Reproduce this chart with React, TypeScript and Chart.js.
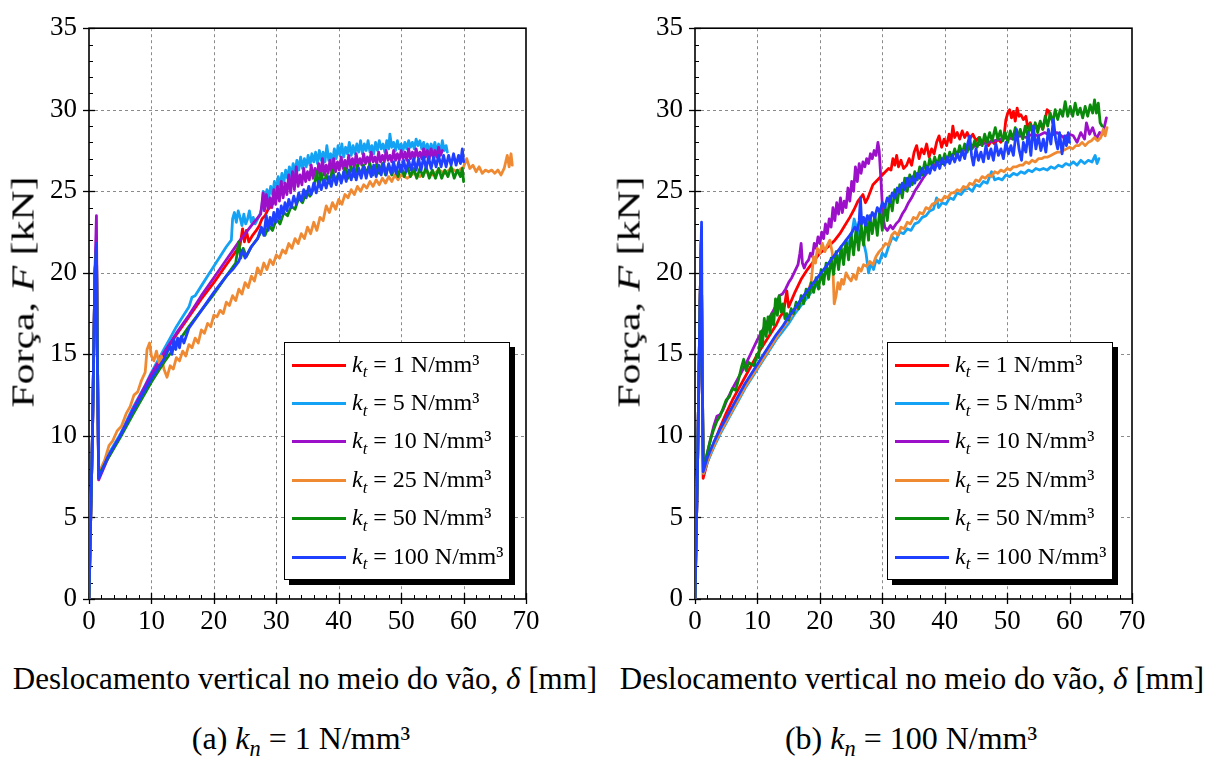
import React, { useEffect, useRef } from 'react';
import { Chart, registerables } from 'chart.js';

Chart.register(...registerables);

// ---------- axis ticks ----------
const X_TICKS = [0, 10, 20, 30, 40, 50, 60, 70];
const Y_TICKS = [0, 5, 10, 15, 20, 25, 30, 35];
const X_MINOR = [2, 4, 6, 8, 12, 14, 16, 18, 22, 24, 26, 28, 32, 34, 36, 38, 42, 44, 46, 48, 52, 54, 56, 58, 62, 64, 66, 68];
const Y_MINOR = [1, 2, 3, 4, 6, 7, 8, 9, 11, 12, 13, 14, 16, 17, 18, 19, 21, 22, 23, 24, 26, 27, 28, 29, 31, 32, 33, 34];

// ---------- legend ----------
const KT_LABELS = ['1', '5', '10', '25', '50', '100'];
const KT_COLORS = ['#ff0000', '#14a2f5', '#9b10c8', '#f08a32', '#0a8a0a', '#2040ff'];

// ---------- panel (a): kn = 1 N/mm3 ----------
const A_KT1 = [[0,0],[0.55,10],[0.95,20],[1.2,21.5],[1.35,15],[1.55,7.4],[3,8.7],[5,10.0],[7,11.6],[10,13.7],[12,15.0],[14,16.2],[16,17.3],[18,18.4],[20,19.4],[22,20.5],[23.5,21.3],[24.2,21.7],[24.6,22.7],[24.9,21.9],[25.2,22.6],[25.6,21.9],[26.2,22.3],[26.8,22.6],[27.3,22.9],[27.7,23.3],[28.2,23.5],[28.7,23.9],[29.2,24.1],[29.7,24.4]];

const A_KT5 = [[0,0],[0.55,10],[0.95,20],[1.2,21.5],[1.35,15],[1.55,7.6],[3,8.8],[5,10.1],[7,11.7],[9,13.1],[10,13.9],[11,14.6],[12,15.3],[13,16.0],[14,16.7],[15,17.3],[16,17.9],[16.5,18.5],[17,18.6],[18,19.2],[19,19.8],[20,20.4],[21,21.0],[22,21.6],[22.8,22.0],[23.0,23.3],[23.3,23.7],[23.6,23.1],[23.9,23.8],[24.2,23.4],[24.5,22.9],[24.8,23.6],[25.1,23.0],[25.4,23.3],[25.7,23.8],[26.0,23.1],[26.3,23.4],[26.6,23.0],[27.0,23.3],[27.4,23.6],[27.7,24.0],[27.9,25.0],[28.2,24.4],[28.5,25.1],[28.8,24.6],[29.1,25.3],[29.4,24.8],[29.7,25.6],[30.0,25.0],[30.3,25.9],[30.6,25.3],[30.9,26.1],[31.2,25.5],[31.5,26.3],[31.8,25.8],[32.1,26.5],[32.4,25.9],[32.7,26.7],[33.0,26.1],[33.3,26.9],[33.6,26.3],[33.9,27.1],[34.2,26.4],[34.5,27.0],[34.8,26.5],[35.1,27.2],[35.4,26.6],[35.7,27.3],[36.0,26.8],[36.3,27.4],[36.6,26.7],[36.9,27.5],[37.2,26.9],[37.5,27.4],[37.8,26.8],[38.1,27.8],[38.4,26.9],[38.7,27.3],[39.0,26.8],[39.3,27.6],[39.6,27.0],[39.9,27.8],[40.2,27.2],[40.5,27.9],[40.8,27.1],[41.1,27.7],[41.4,27.3],[41.7,28.0],[42.0,27.2],[42.3,27.8],[42.6,27.3],[42.9,27.9],[43.2,27.4],[43.5,28.1],[43.8,27.3],[44.1,27.9],[44.4,27.5],[44.7,28.1],[45.0,27.4],[45.3,27.8],[45.6,27.3],[45.9,28.0],[46.2,27.5],[46.5,28.1],[46.8,27.6],[47.1,27.9],[47.4,27.4],[47.7,28.1],[48.0,27.6],[48.2,28.5],[48.5,27.7],[48.8,28.0],[49.1,27.5],[49.4,28.1],[49.7,27.6],[50.0,27.9],[50.3,27.5],[50.6,28.0],[50.9,27.6],[51.2,28.1],[51.5,27.7],[51.8,28.0],[52.1,27.6],[52.4,28.2],[52.7,27.8],[53.0,28.1],[53.3,27.6],[53.6,28.0],[53.9,27.5],[54.2,27.9],[54.5,27.4],[54.8,27.9],[55.1,27.5],[55.4,28.0],[55.7,27.4],[56.0,27.9],[56.3,27.3],[56.6,28.1],[56.9,27.5],[57.2,27.8],[57.4,27.4]];

const A_KT10 = [[0,0],[0.55,10],[0.95,20],[1.19,23.5],[1.35,15],[1.55,7.3],[3,8.6],[5,10.0],[7,11.6],[10,13.8],[12,15.1],[14,16.3],[16,17.4],[18,18.6],[20,19.7],[22,20.8],[24,21.9],[26,22.9],[27.5,23.6],[27.9,24.9],[28.1,23.8],[28.4,24.8],[28.7,23.9],[29.0,24.6],[29.3,24.0],[29.6,25.1],[29.9,24.2],[30.2,25.3],[30.5,24.4],[30.8,25.6],[31.1,24.6],[31.4,25.5],[31.7,24.8],[32.0,26.0],[32.3,24.9],[32.6,26.2],[32.9,25.1],[33.2,26.5],[33.5,25.3],[33.8,26.0],[34.1,25.4],[34.4,26.4],[34.7,25.6],[35.0,26.2],[35.3,25.7],[35.6,26.6],[35.9,25.8],[36.2,26.4],[36.5,25.9],[36.8,26.7],[37.1,25.9],[37.4,27.0],[37.7,26.0],[38.0,26.6],[38.3,26.1],[38.6,26.9],[38.9,26.1],[39.2,27.0],[39.5,26.2],[39.8,26.8],[40.1,26.3],[40.4,27.1],[40.7,26.4],[41.0,26.9],[41.3,26.4],[41.6,27.2],[41.9,26.5],[42.2,27.0],[42.5,26.5],[42.8,27.3],[43.1,26.6],[43.4,27.0],[43.7,26.6],[44.0,27.3],[44.3,26.7],[44.6,27.1],[44.9,26.7],[45.2,27.4],[45.5,26.8],[45.8,27.1],[46.1,26.7],[46.4,27.4],[46.7,26.8],[47.0,27.2],[47.3,26.8],[47.6,27.5],[47.9,26.9],[48.2,27.2],[48.5,26.8],[48.8,27.5],[49.1,26.9],[49.4,27.3],[49.7,26.9],[50.0,27.5],[50.3,27.0],[50.6,27.4],[50.9,26.9],[51.2,27.6],[51.5,27.0],[51.8,27.4],[52.1,27.0],[52.4,27.6],[52.7,27.1],[53.0,27.4],[53.3,27.0],[53.6,27.6],[53.9,27.1],[54.2,27.5],[54.5,27.0],[54.8,27.6],[55.1,27.1],[55.4,27.5],[55.7,27.1],[56.0,27.7],[56.3,27.2],[56.6,27.5]];

const A_KT25 = [[0,0],[0.55,10],[0.95,20],[1.2,21.5],[1.35,15],[1.55,7.7],[2.5,8.5],[3.2,9.4],[3.8,9.7],[4.5,10.3],[5.2,10.6],[6,11.4],[6.6,11.8],[7.2,12.5],[7.8,12.7],[8.4,13.4],[9,13.9],[9.3,15.3],[9.7,15.7],[10.0,14.9],[10.4,14.6],[10.8,15.2],[11.2,14.5],[11.6,14.9],[12.0,14.1],[12.5,13.6],[13.0,14.3],[13.5,14.1],[14.0,14.8],[14.5,14.6],[15.0,15.2],[15.5,14.9],[16.0,15.6],[16.5,15.4],[17.0,16.0],[17.5,15.7],[18.0,16.5],[18.5,16.3],[19.0,16.9],[19.5,16.7],[20.0,17.4],[20.5,17.3],[21.0,17.7],[21.5,17.5],[22.0,18.2],[22.5,18.0],[23.0,18.6],[23.5,18.3],[24.0,19.0],[24.5,18.7],[25.0,19.4],[25.5,19.1],[26.0,19.8],[26.5,19.5],[27.0,20.3],[27.5,19.9],[28.0,20.6],[28.5,20.2],[29.0,20.8],[29.5,20.5],[30.0,21.1],[30.5,20.9],[31.0,21.4],[31.5,21.2],[32.0,21.8],[32.5,21.5],[33.0,22.1],[33.5,21.8],[34.0,22.4],[34.5,22.1],[35.0,22.8],[35.5,22.4],[36.0,23.1],[36.5,22.6],[37.0,23.4],[37.5,23.2],[38.0,24.1],[38.5,23.7],[39.0,24.3],[39.5,23.9],[40.0,24.5],[40.5,24.2],[41.0,24.8],[41.5,24.6],[42.0,25.1],[42.5,24.8],[43.0,25.3],[43.5,25.0],[44.0,25.4],[44.5,25.2],[45.0,25.6],[45.5,25.3],[46,25.7],[46.5,25.4],[47,25.8],[47.5,25.5],[48,25.9],[48.5,25.6],[49,26.0],[49.5,25.7],[50,26.0],[51,25.8],[52,26.1],[53,25.9],[54,26.2],[55,26.0],[56,26.3],[57,26.1],[58,26.4],[59,26.2],[60,26.5],[60.5,27.0],[61,26.4],[61.5,26.6],[62,26.2],[62.5,26.5],[63,26.1],[63.5,26.3],[64,26.2],[64.5,26.3],[65,26.1],[65.5,26.3],[66,26.0],[66.5,26.4],[67,27.2],[67.3,26.5],[67.6,27.3],[67.8,26.6]];

const A_KT50 = [[0,0],[0.55,10],[0.95,20],[1.2,21.5],[1.35,15],[1.55,7.6],[3,8.6],[5,9.9],[7,11.3],[10,13.3],[12,14.5],[14,15.6],[16,16.7],[18,17.7],[20,18.7],[22,19.8],[23.5,20.6],[24.0,21.9],[24.3,20.9],[24.7,21.5],[25.2,21.0],[26,21.6],[27,22.1],[27.8,22.7],[28.2,22.3],[28.8,22.9],[29.4,22.6],[30.0,23.3],[30.6,23.0],[31.2,23.7],[31.8,23.5],[32.4,24.1],[33.0,23.9],[33.6,24.6],[34.2,24.3],[34.8,25.0],[35.4,24.7],[36.0,25.2],[36.5,26.2],[36.8,25.3],[37.2,26.1],[37.6,25.4],[38.0,26.0],[38.5,25.5],[39.0,26.3],[39.5,25.6],[40.0,26.1],[40.5,25.7],[41,26.4],[41.5,25.8],[42,26.5],[42.5,25.9],[43,26.6],[43.5,26.0],[44,26.6],[44.5,26.1],[45,26.7],[45.5,26.0],[46,26.6],[46.5,26.1],[47,26.7],[47.5,26.0],[48,26.6],[48.5,26.0],[49,26.5],[49.5,25.9],[50,26.6],[50.5,25.9],[51,26.5],[51.5,25.9],[52,26.4],[52.5,25.8],[53,26.4],[53.5,25.9],[54,26.5],[54.5,25.8],[55,26.3],[55.5,25.8],[56,26.4],[56.5,25.8],[57,26.3],[57.5,25.9],[58,26.5],[58.5,25.8],[59,26.3],[59.5,25.9],[59.8,26.4],[60,25.6]];

const A_KT100 = [[0,0],[0.55,10],[0.95,20],[1.19,21.8],[1.35,14],[1.55,7.4],[3,8.7],[5,10.0],[7,11.5],[10,13.5],[12,14.7],[13,15.5],[13.3,15.0],[13.6,15.9],[13.9,15.3],[14.2,16.0],[14.5,15.4],[14.8,16.1],[15.2,15.7],[16,16.6],[18,17.7],[20,18.8],[22,19.8],[23,20.2],[24,20.7],[24.6,21.4],[25,20.9],[26,21.6],[27,22.1],[27.6,22.8],[28.0,22.3],[28.4,23.5],[28.7,22.6],[29.0,23.4],[29.3,22.9],[29.6,23.7],[29.9,23.1],[30.2,23.9],[30.5,23.3],[30.8,24.1],[31.1,23.6],[31.4,24.3],[31.7,23.8],[32.0,24.5],[32.4,24.0],[32.8,24.7],[33.2,24.2],[33.6,24.9],[34.0,24.4],[34.4,25.1],[34.8,24.6],[35.2,25.3],[35.6,24.8],[36.0,25.5],[36.4,24.9],[36.8,25.6],[37.2,25.1],[37.6,25.7],[38.0,25.2],[38.4,25.9],[38.8,25.3],[39.2,26.0],[39.6,25.4],[40.0,26.1],[40.4,25.5],[40.8,26.2],[41.2,25.6],[41.6,26.3],[42.0,25.7],[42.4,26.4],[42.8,25.7],[43.2,26.4],[43.6,25.8],[44.0,26.5],[44.4,25.8],[44.8,26.5],[45.2,25.9],[45.6,26.6],[46.0,25.9],[46.4,26.6],[46.8,26.0],[47.2,26.7],[47.6,26.0],[48.0,26.7],[48.4,26.1],[48.8,26.8],[49.2,26.1],[49.6,26.8],[50.0,26.2],[50.4,26.9],[50.8,26.2],[51.2,26.9],[51.6,26.3],[52.0,27.0],[52.4,26.3],[52.8,27.0],[53.2,26.3],[53.6,27.1],[54.0,26.4],[54.4,27.1],[54.8,26.4],[55.2,27.1],[55.6,26.5],[56.0,27.2],[56.4,26.5],[56.8,27.2],[57.2,26.5],[57.6,27.2],[58.0,26.6],[58.4,27.3],[58.8,26.6],[59.2,27.2],[59.5,26.7],[59.8,27.6],[60.0,26.8]];

// ---------- panel (b): kn = 100 N/mm3 ----------
const B_KT1 = [[0,0],[0.4,8],[0.8,18],[1.0,22.0],[1.15,14],[1.3,7.4],[2,8.4],[3,9.5],[4,10.5],[5,11.4],[6,12.2],[7,12.9],[8,13.6],[9,14.3],[10,15.0],[11,15.6],[12,16.2],[13,16.8],[13.6,17.3],[14.2,17.6],[14.7,18.9],[15.0,17.9],[16,18.8],[17,19.6],[18,20.2],[19,20.7],[20,21.2],[21,21.5],[21.6,21.7],[22.4,22.0],[23.2,22.4],[24,22.9],[24.8,23.4],[25.5,23.9],[26.1,24.4],[26.5,24.6],[26.9,24.8],[27.3,24.3],[27.7,24.6],[28.1,25.0],[28.5,25.4],[29,25.6],[29.5,25.8],[30,26.0],[30.5,26.2],[31,26.4],[31.4,26.3],[31.7,27.0],[32,26.6],[32.3,27.2],[32.6,26.5],[33,26.9],[33.4,26.4],[33.9,26.6],[34.3,27.0],[34.7,26.6],[35.1,27.4],[35.5,27.8],[35.9,27.0],[36.3,27.6],[36.7,27.3],[37.1,27.9],[37.5,27.1],[37.9,27.6],[38.3,27.3],[38.7,28.0],[39.1,28.4],[39.5,27.7],[39.9,28.2],[40.3,27.8],[40.7,28.5],[41.0,28.0],[41.3,29.0],[41.6,28.3],[42,28.6],[42.4,28.2],[42.8,28.7],[43.2,28.3],[43.6,28.6],[44,28.2],[44.5,28.5],[45,28.1],[45.5,28.3],[46,28.0],[46.5,28.2],[47,27.8],[47.5,28.1],[48,27.9],[48.5,28.2],[49,28.0],[49.5,28.4],[49.8,29.4],[50.1,29.8],[50.4,30.0],[50.7,29.5],[51,29.9],[51.3,29.3],[51.6,30.1],[51.9,29.6],[52.2,29.7],[52.6,29.4],[53,29.6],[53.3,28.9],[53.7,29.2],[54.1,28.8],[54.5,29.1],[54.9,28.9],[55.3,29.2],[55.7,28.8],[56.1,29.4],[56.4,30.0],[56.7,29.9],[57.0,29.5]];

const B_KT5 = [[0,0],[0.4,8],[0.8,18],[1.0,22.0],[1.15,14],[1.35,7.7],[2,8.4],[3,9.3],[4,10.1],[5,10.8],[6,11.5],[7,12.2],[8,12.9],[9,13.5],[10,14.1],[11,14.7],[12,15.3],[13,15.9],[14,16.4],[15,16.9],[16,17.5],[17,18.0],[18,18.5],[19,19.0],[20,19.5],[21,20.0],[22,20.5],[23,21.0],[24,21.5],[25,22.1],[25.5,23.3],[26,22.6],[26.5,22.2],[27,21.9],[27.4,21.2],[27.8,20.0],[28.2,20.6],[28.6,20.2],[29,20.8],[29.5,20.6],[30,21.2],[30.5,21.0],[31,21.6],[31.6,22.2],[32.2,22.0],[32.8,22.5],[33.4,22.4],[34,22.7],[34.6,22.6],[35.2,23.0],[35.8,23.1],[36.4,23.4],[37,23.5],[37.6,23.8],[38.2,23.9],[38.7,24.6],[39.0,24.0],[39.6,24.3],[40.2,24.2],[40.8,24.6],[41.4,24.5],[42,24.9],[42.6,24.8],[43.2,25.1],[43.8,25.2],[44.4,25.0],[45,25.4],[45.6,25.3],[46.2,25.6],[46.8,25.5],[47.5,26.2],[48,25.7],[48.6,25.8],[49.2,25.7],[49.8,26.0],[50.4,25.9],[51,26.1],[51.6,26.0],[52.2,26.2],[52.8,26.1],[53.4,26.3],[54,26.2],[54.6,26.4],[55.2,26.3],[55.8,26.4],[56.4,26.3],[57,26.5],[57.6,26.4],[58.2,26.6],[58.8,26.5],[59.4,26.7],[60,26.6],[60.6,26.8],[61.2,26.6],[61.8,26.9],[62.4,26.7],[63,26.9],[63.6,26.8],[64.1,27.2],[64.4,26.7],[64.7,27.0]];

const B_KT10 = [[0,0],[0.4,8],[0.8,18],[1.0,22.0],[1.15,14],[1.35,7.8],[2,9.0],[2.5,9.8],[3,10.6],[3.5,11.2],[4,11.3],[4.5,11.6],[5,12.1],[6,12.9],[7,13.6],[8,14.3],[9,15.1],[10,15.9],[11,16.6],[12,17.3],[13,18.0],[13.5,18.6],[14,18.7],[14.5,19.0],[15,19.4],[15.5,19.7],[16,20.1],[16.5,20.5],[16.8,21.2],[17.0,21.8],[17.2,20.6],[17.5,20.3],[17.8,20.6],[18.2,20.8],[18.5,21.2],[18.8,21.0],[19.1,21.8],[19.4,21.5],[19.7,22.2],[20.0,21.8],[20.3,22.5],[20.6,22.1],[20.9,23.0],[21.2,22.4],[21.5,23.3],[21.8,22.8],[22.1,24.0],[22.4,23.2],[22.7,24.3],[23.0,23.6],[23.3,24.6],[23.6,23.7],[23.9,24.4],[24.2,24.0],[24.5,25.2],[24.8,24.4],[25.1,25.6],[25.4,25.0],[25.7,26.5],[26.0,25.6],[26.3,26.7],[26.6,26.1],[26.9,26.8],[27.2,26.5],[27.5,27.0],[27.8,26.7],[28.1,27.3],[28.4,27.0],[28.7,27.5],[29.0,27.2],[29.3,28.0],[29.5,27.5],[29.8,25.6],[30.1,23.5],[30.4,22.8],[30.8,22.6],[31.3,22.9],[31.7,22.7],[32.2,23.0],[32.7,23.2],[33.2,23.6],[33.7,23.9],[34.2,24.3],[34.7,24.6],[35.2,25.0],[35.7,25.3],[36.2,25.6],[36.7,25.9],[37.3,26.2],[38,26.5],[39,26.8],[40,27.0],[41,27.2],[42,27.4],[43,27.5],[44,27.6],[45,27.8],[46,27.9],[47,28.0],[48,28.1],[49,28.2],[50,28.3],[51,28.2],[52,28.4],[53,28.3],[54,28.5],[55,28.4],[56,28.6],[57,28.4],[58,28.6],[59,28.3],[60,28.5],[60.6,28.4],[61.2,28.0],[61.8,28.6],[62.4,28.2],[62.7,29.2],[63.2,28.5],[63.7,28.9],[64.3,28.2],[64.8,28.6],[65.3,28.5],[65.9,29.5]];

const B_KT25 = [[0,0],[0.4,8],[0.8,18],[1.0,22.0],[1.15,14],[1.35,7.7],[2,8.5],[3,9.4],[4,10.2],[5,10.9],[6,11.6],[7,12.3],[8,13.0],[9,13.6],[10,14.2],[11,14.8],[12,15.4],[13,16.0],[14,16.6],[15,17.1],[16,17.7],[17,18.3],[18,18.8],[18.6,19.4],[19.0,21.0],[19.3,20.6],[19.6,21.5],[20.0,21.2],[20.4,21.8],[20.8,21.3],[21.2,21.7],[21.6,22.0],[22.0,21.2],[22.3,18.1],[22.6,18.6],[22.9,19.4],[23.2,19.0],[23.5,19.6],[23.8,19.3],[24.2,20.0],[24.6,19.7],[25.0,19.5],[25.4,19.9],[25.8,19.6],[26.2,20.3],[26.6,20.1],[27,20.5],[27.5,20.4],[28,20.7],[28.5,20.5],[29,21.0],[29.5,21.3],[30,21.5],[30.5,21.8],[31,21.7],[31.5,22.3],[32,22.5],[32.5,22.3],[33,22.8],[33.5,22.7],[34,23.1],[34.5,23.0],[35,23.4],[35.5,23.3],[36,23.7],[36.5,23.6],[37,24.0],[37.5,23.9],[38,24.2],[38.5,24.3],[39,24.5],[39.5,24.4],[40,24.7],[40.5,24.6],[41,24.9],[41.5,24.9],[42,25.1],[42.5,25.0],[43,25.3],[43.5,25.2],[44,25.5],[44.5,25.4],[45,25.7],[45.5,25.6],[46,25.9],[46.5,25.8],[47,26.0],[47.5,25.9],[48,26.2],[48.5,26.1],[49,26.3],[49.5,26.2],[50,26.4],[50.5,26.3],[51,26.5],[51.5,26.5],[52,26.6],[52.5,26.6],[53,26.8],[53.5,26.7],[54,26.9],[54.5,26.8],[55,27.0],[55.5,27.0],[56,27.1],[56.5,27.1],[57,27.2],[57.5,27.3],[58,27.4],[58.5,27.4],[59,27.5],[59.5,27.6],[60,27.7],[60.5,27.6],[61,27.8],[61.5,27.8],[62,28.0],[62.5,27.8],[63,28.0],[63.5,28.1],[64,28.3],[64.5,28.1],[65,28.3],[65.4,28.8],[65.7,28.4],[66,28.9]];

const B_KT50 = [[0,0],[0.4,8],[0.8,18],[1.0,22.0],[1.15,14],[1.35,8.0],[2,9.0],[2.5,9.8],[3,10.4],[3.5,10.9],[4,11.2],[4.5,11.7],[5,12.2],[5.5,12.4],[6,12.9],[6.5,12.8],[7,13.5],[7.5,14.3],[7.8,14.7],[8.2,14.0],[8.6,14.5],[9,14.4],[9.5,14.3],[9.9,15.0],[10.2,14.8],[10.5,16.4],[10.8,15.5],[11.1,17.2],[11.4,16.1],[11.7,17.3],[12.0,16.3],[12.3,17.5],[12.6,16.8],[12.9,18.4],[13.2,17.4],[13.5,18.6],[13.8,17.6],[14.1,18.1],[14.4,17.2],[14.7,17.5],[15,17.1],[15.4,17.8],[15.8,17.5],[16.2,18.2],[16.6,17.8],[17,18.6],[17.4,18.1],[17.8,19.0],[18.2,18.5],[18.6,19.4],[19.0,18.8],[19.4,19.7],[19.8,19.0],[20.2,20.2],[20.6,19.3],[21,20.6],[21.4,19.6],[21.8,20.9],[22.2,19.9],[22.6,21.3],[23,20.2],[23.4,21.6],[23.8,20.5],[24.2,22.0],[24.6,20.8],[25,22.4],[25.4,21.1],[25.8,22.7],[26.2,21.4],[26.6,23.0],[27,21.7],[27.4,23.3],[27.8,22.0],[28.0,23.5],[28.4,22.4],[28.8,23.6],[29.2,22.3],[29.6,23.9],[30.0,22.6],[30.4,24.2],[30.8,23.2],[31.2,24.7],[31.6,23.8],[32,25.1],[32.4,24.3],[32.8,25.4],[33.2,24.6],[33.6,25.8],[34.0,25.0],[34.4,26.0],[34.8,25.4],[35.2,26.2],[35.6,25.7],[36.0,26.5],[36.4,26.0],[36.8,26.8],[37.2,26.2],[37.6,27.0],[38.0,26.5],[38.4,27.1],[38.8,26.6],[39.2,27.2],[39.6,26.7],[40.0,27.3],[40.4,26.8],[40.8,27.4],[41.2,27.0],[41.6,27.6],[42.0,27.1],[42.4,27.8],[42.8,27.3],[43.2,27.9],[43.6,27.4],[44.0,28.0],[44.4,27.6],[44.8,28.1],[45.2,27.7],[45.6,28.3],[46.0,27.8],[46.4,28.5],[46.8,28.0],[47.2,28.6],[47.6,28.1],[48.1,28.9],[48.5,28.2],[48.9,28.7],[49.3,28.1],[49.7,28.6],[50.1,28.0],[50.5,28.7],[50.9,28.2],[51.3,28.9],[51.7,28.3],[52.1,28.8],[52.5,28.2],[52.9,29.0],[53.3,28.4],[53.7,29.1],[54.1,28.5],[54.5,29.2],[54.9,28.6],[55.3,29.3],[55.7,28.8],[56.1,29.6],[56.5,29.0],[56.9,29.8],[57.3,29.2],[57.7,30.0],[58.1,29.4],[58.5,30.0],[58.9,29.6],[59.3,30.5],[59.7,29.6],[60.1,30.2],[60.5,29.6],[60.9,30.4],[61.3,29.7],[61.7,30.1],[62.1,29.5],[62.5,30.2],[62.9,29.6],[63.3,30.3],[63.7,29.8],[64.0,30.6],[64.3,29.8],[64.6,30.4],[64.9,29.2],[65.2,29.0]];

const B_KT100 = [[0,0],[0.4,8],[0.8,18],[1.05,23.1],[1.15,14],[1.3,7.8],[2,8.7],[3,9.6],[4,10.4],[5,11.1],[6,11.8],[7,12.5],[8,13.2],[9,13.8],[10,14.4],[11,15.0],[12,15.6],[13,16.2],[14,16.7],[15,17.3],[16,17.8],[17,18.4],[18,18.9],[19,19.4],[20,19.9],[21,20.4],[22,20.9],[23,21.4],[24,21.9],[25,22.4],[25.6,22.8],[26,22.6],[26.3,23.2],[26.5,24.6],[26.7,23.0],[27,23.4],[27.3,22.9],[27.6,23.5],[28,23.2],[28.4,23.7],[28.8,23.4],[29.2,24.0],[29.6,23.7],[30,24.3],[30.4,24.0],[30.8,24.6],[31.2,24.3],[31.6,24.9],[32,24.6],[32.4,25.2],[32.8,24.9],[33.2,25.5],[33.6,25.1],[34,25.8],[34.4,25.3],[34.8,25.9],[35.2,25.5],[35.6,26.1],[36,25.8],[36.4,26.4],[36.8,26.0],[37.2,26.5],[37.6,26.1],[38,26.6],[38.4,26.3],[38.8,26.8],[39.2,26.4],[39.6,27.0],[40,26.6],[40.4,27.1],[40.8,26.7],[41.2,27.2],[41.6,26.8],[42,27.3],[42.4,26.9],[42.8,27.5],[43.2,27.0],[43.6,27.8],[44,28.4],[44.3,27.2],[44.6,26.6],[45,27.6],[45.4,26.9],[45.8,27.4],[46.2,26.8],[46.6,27.8],[47,27.0],[47.4,27.6],[47.8,26.9],[48.2,27.9],[48.6,27.2],[49,27.6],[49.4,27.0],[49.8,28.0],[50.2,27.3],[50.6,27.8],[51,27.2],[51.5,28.8],[51.9,27.6],[52.3,26.9],[52.6,28.0],[53,27.4],[53.4,28.6],[53.8,27.2],[54.2,29.0],[54.6,27.6],[55,28.4],[55.4,27.5],[55.8,28.2],[56.2,27.4],[56.6,28.8],[57,27.9],[57.4,29.4],[57.8,28.1],[58.1,27.6],[58.4,28.6],[58.8,27.3],[59.2,28.4],[59.5,27.8],[59.8,28.6],[60,28.0]];

const SERIES_A = [A_KT1, A_KT5, A_KT10, A_KT25, A_KT50, A_KT100];
const SERIES_B = [B_KT1, B_KT5, B_KT10, B_KT25, B_KT50, B_KT100];

const SERIF = '"Liberation Serif", "Times New Roman", Times, serif';

const CANVAS_W = 560;
const CANVAS_H = 640;

const framePlugin = {
  id: 'frameTicks',
  beforeDatasetsDraw(chart: any) {
    const { ctx, chartArea, scales } = chart;
    const { left, right, top, bottom } = chartArea;
    const xs = scales.x;
    const ys = scales.y;
    const line = (x1: number, y1: number, x2: number, y2: number) => {
      ctx.beginPath();
      ctx.moveTo(x1, y1);
      ctx.lineTo(x2, y2);
      ctx.stroke();
    };
    ctx.save();
    ctx.strokeStyle = '#8a8a8a';
    ctx.lineWidth = 1;
    ctx.setLineDash([3, 3]);
    X_TICKS.forEach((v) => {
      if (v <= xs.min || v >= xs.max) return;
      const px = Math.round(xs.getPixelForValue(v)) + 0.5;
      line(px, top, px, bottom);
    });
    Y_TICKS.forEach((v) => {
      if (v <= ys.min || v >= ys.max) return;
      const py = Math.round(ys.getPixelForValue(v)) + 0.5;
      line(left, py, right, py);
    });
    ctx.setLineDash([]);
    ctx.strokeStyle = '#000';
    ctx.lineWidth = 1;
    X_MINOR.forEach((v) => {
      const px = Math.round(xs.getPixelForValue(v)) + 0.5;
      line(px, bottom, px, bottom - 4);
    });
    Y_MINOR.forEach((v) => {
      const py = Math.round(ys.getPixelForValue(v)) + 0.5;
      line(left, py, left + 4, py);
    });
    ctx.lineWidth = 1.3;
    X_TICKS.forEach((v) => {
      const px = Math.round(xs.getPixelForValue(v)) + 0.5;
      line(px, bottom + 5, px, bottom - 6);
    });
    Y_TICKS.forEach((v) => {
      const py = Math.round(ys.getPixelForValue(v)) + 0.5;
      line(left - 6, py, left + 6, py);
    });
    ctx.lineWidth = 1.6;
    ctx.strokeRect(left, top, right - left, bottom - top);
    ctx.restore();
  },
};

function makeChart(canvas: HTMLCanvasElement, series: number[][][]) {
  return new Chart(canvas, {
    type: 'line',
    data: {
      datasets: series.map((pts, i) => ({
        label: 'kt = ' + KT_LABELS[i],
        data: pts.map(([x, y]) => ({ x, y })),
        borderColor: KT_COLORS[i],
        backgroundColor: KT_COLORS[i],
        borderWidth: 2.8,
        pointRadius: 0,
        tension: 0,
        fill: false,
        borderJoinStyle: 'round',
        borderCapStyle: 'round',
        order: series.length - i,
      })),
    },
    options: {
      responsive: false,
      animation: false,
      events: [],
      layout: { padding: { left: 0, top: 21, right: CANVAS_W - 526, bottom: 0 } },
      plugins: { legend: { display: false }, tooltip: { enabled: false } },
      scales: {
        x: {
          type: 'linear',
          min: 0,
          max: 70,
          afterBuildTicks: (s: any) => {
            s.ticks = X_TICKS.map((v) => ({ value: v }));
          },
          afterFit: (s: any) => {
            s.height = CANVAS_H - 599;
          },
          grid: { display: false, drawTicks: false },
          border: { display: false },
          ticks: {
            padding: 7,
            color: '#000',
            autoSkip: false,
            maxRotation: 0,
            font: { family: SERIF, size: 27 },
          },
        },
        y: {
          type: 'linear',
          min: 0,
          max: 35,
          afterBuildTicks: (s: any) => {
            s.ticks = Y_TICKS.map((v) => ({ value: v }));
          },
          afterFit: (s: any) => {
            s.width = 89;
          },
          grid: { display: false, drawTicks: false },
          border: { display: false },
          ticks: {
            padding: 12,
            color: '#000',
            autoSkip: false,
            font: { family: SERIF, size: 27 },
          },
        },
      },
    } as any,
    plugins: [framePlugin],
  } as any);
}

function Legend({ left, top }: { left: number; top: number }) {
  return (
    <div
      style={{
        position: 'absolute',
        left,
        top,
        width: 226,
        height: 238,
        boxSizing: 'border-box',
        border: '1.5px solid #000',
        background: '#fff',
        boxShadow: '5px 5px 0 #000',
        fontFamily: SERIF,
      }}
    >
      {KT_LABELS.map((v, i) => (
        <div
          key={v}
          style={{
            position: 'absolute',
            left: 0,
            top: 22 + i * 38.4 - 15,
            height: 30,
            display: 'flex',
            alignItems: 'center',
            whiteSpace: 'nowrap',
          }}
        >
          <div style={{ marginLeft: 7, width: 54, height: 3, background: KT_COLORS[i] }} />
          <div style={{ marginLeft: 6, fontSize: 24, lineHeight: '30px' }}>
            <i>k</i>
            <i style={{ fontSize: '0.7em', position: 'relative', top: '0.35em' }}>t</i>
            {' = ' + v + ' N/mm³'}
          </div>
        </div>
      ))}
    </div>
  );
}

function YTitle({ cx, cy }: { cx: number; cy: number }) {
  return (
    <div
      style={{
        position: 'absolute',
        left: cx,
        top: cy,
        transform: 'translate(-50%, -50%) rotate(-90deg) scaleX(1.35)',
        whiteSpace: 'nowrap',
        fontSize: 31,
        lineHeight: 1,
        fontFamily: SERIF,
      }}
    >
      Força, <i>F</i> [kN]
    </div>
  );
}

function CenterText({ cx, cy, size, children }: { cx: number; cy: number; size: number; children: any }) {
  return (
    <div
      style={{
        position: 'absolute',
        left: cx,
        top: cy,
        transform: 'translate(-50%, -50%)',
        whiteSpace: 'nowrap',
        fontSize: size,
        lineHeight: 1.2,
        fontFamily: SERIF,
      }}
    >
      {children}
    </div>
  );
}

export default function App() {
  const refA = useRef<HTMLCanvasElement | null>(null);
  const refB = useRef<HTMLCanvasElement | null>(null);

  useEffect(() => {
    const a = makeChart(refA.current as HTMLCanvasElement, SERIES_A);
    const b = makeChart(refB.current as HTMLCanvasElement, SERIES_B);
    return () => {
      a.destroy();
      b.destroy();
    };
  }, []);

  const sub = { fontSize: '0.7em', position: 'relative' as const, top: '0.3em' };

  return (
    <div
      style={{
        position: 'absolute',
        left: 0,
        top: 0,
        width: 1211,
        height: 757,
        overflow: 'hidden',
        background: '#fff',
        color: '#000',
        fontFamily: SERIF,
      }}
    >
      <canvas
        ref={refA}
        width={CANVAS_W}
        height={CANVAS_H}
        style={{ position: 'absolute', left: 0, top: 0, width: CANVAS_W, height: CANVAS_H }}
      />
      <canvas
        ref={refB}
        width={CANVAS_W}
        height={CANVAS_H}
        style={{ position: 'absolute', left: 606, top: 0, width: CANVAS_W, height: CANVAS_H }}
      />
      <YTitle cx={23} cy={292} />
      <YTitle cx={629} cy={292} />
      <Legend left={284} top={342} />
      <Legend left={887} top={342} />
      <CenterText cx={305} cy={679} size={31}>
        Deslocamento vertical no meio do vão, <i>δ</i> [mm]
      </CenterText>
      <CenterText cx={912} cy={679} size={31}>
        Deslocamento vertical no meio do vão, <i>δ</i> [mm]
      </CenterText>
      <CenterText cx={301} cy={738} size={32}>
        (a) <i>k</i><i style={sub}>n</i> = 1 N/mm³
      </CenterText>
      <CenterText cx={911} cy={738} size={32}>
        (b) <i>k</i><i style={sub}>n</i> = 100 N/mm³
      </CenterText>
    </div>
  );
}
